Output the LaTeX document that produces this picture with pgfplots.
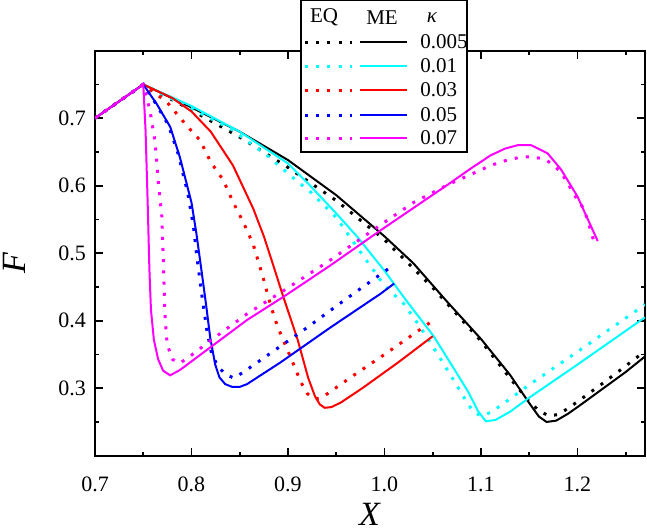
\documentclass[border=0pt]{standalone}
\usepackage{fontspec}
\setmainfont{Liberation Serif}
\usepackage{pgfplots}
\pgfplotsset{compat=1.18}

\definecolor{cy}{RGB}{0,255,255}
\definecolor{mg}{RGB}{255,0,255}
\definecolor{rd}{RGB}{255,0,0}
\definecolor{bl}{RGB}{0,0,255}

\tikzset{eq/.style={line width=1.5bp, line cap=butt, dash pattern=on 1.5bp off 4.1bp},
         me/.style={line width=1bp}}

\begin{document}
\begin{tikzpicture}
\begin{axis}[
  scale only axis, width=275bp, height=202.5bp,
  xmin=0.7, xmax=1.27, ymin=0.2, ymax=0.8,
  xtick={0.7,0.8,0.9,1.0,1.1,1.2},
  minor xtick={0.75,0.85,0.95,1.05,1.15,1.25},
  ytick={0.3,0.4,0.5,0.6,0.7},
  minor ytick={0.25,0.35,0.45,0.55,0.65,0.75},
  tick align=inside,
  major tick length=4bp, minor tick length=2bp,
  axis line style={line width=1bp},
  every tick/.style={black, line width=0.8bp},
  ticklabel style={font=\fontsize{11bp}{13bp}\selectfont},
  xticklabel style={yshift=-7bp},
  yticklabel style={xshift=-1bp},
  /pgf/number format/fixed, /pgf/number format/fixed zerofill,
  /pgf/number format/precision=1, /pgf/number format/assume math mode=true,
  xlabel={\textit{X}}, ylabel={\textit{F}},
  label style={font=\fontsize{17bp}{20bp}\selectfont, inner sep=0pt},
  xlabel style={at={(axis description cs:0.5,-0.145)}, anchor=center},
  ylabel style={at={(axis description cs:-0.147,0.476)}, anchor=center},
]
% kappa = 0.005
\addplot[eq, black] coordinates {(0.7,0.7)(0.75,0.75)(0.8,0.712)(0.85,0.672)(0.9,0.627)(0.95,0.578)(1.0,0.52)(1.05,0.449)(1.1,0.37)(1.13,0.315)(1.15,0.28)(1.16,0.267)(1.17,0.259)(1.18,0.261)(1.19,0.27)(1.2,0.28)(1.225,0.306)(1.25,0.333)(1.27,0.355)};
\addplot[me, black] coordinates {(0.7,0.7)(0.75,0.75)(0.8,0.716)(0.85,0.68)(0.9,0.638)(0.95,0.586)(1.0,0.525)(1.03,0.485)(1.065,0.428)(1.1,0.373)(1.13,0.32)(1.15,0.278)(1.16,0.258)(1.168,0.25)(1.178,0.252)(1.19,0.262)(1.2,0.272)(1.225,0.298)(1.25,0.324)(1.27,0.347)};
% kappa = 0.01
\addplot[eq, cy] coordinates {(0.7,0.7)(0.75,0.75)(0.8,0.714)(0.84,0.685)(0.88,0.643)(0.905,0.612)(0.923,0.591)(0.95,0.553)(0.975,0.502)(1.0,0.452)(1.02,0.425)(1.035,0.395)(1.05,0.362)(1.07,0.316)(1.083,0.285)(1.092,0.265)(1.1,0.259)(1.11,0.264)(1.125,0.279)(1.15,0.305)(1.2,0.354)(1.25,0.404)(1.27,0.424)};
\addplot[me, cy] coordinates {(0.7,0.7)(0.75,0.75)(0.8,0.718)(0.85,0.68)(0.9,0.633)(0.923,0.600)(0.95,0.559)(0.972,0.524)(1.0,0.474)(1.022,0.431)(1.051,0.377)(1.075,0.322)(1.087,0.294)(1.097,0.266)(1.105,0.251)(1.115,0.253)(1.13,0.265)(1.15,0.286)(1.2,0.335)(1.25,0.385)(1.27,0.405)};
% kappa = 0.03
\addplot[eq, rd] coordinates {(0.7,0.7)(0.75,0.75)(0.7745,0.724)(0.795,0.689)(0.809,0.667)(0.82,0.635)(0.833,0.608)(0.843,0.576)(0.854,0.545)(0.864,0.513)(0.874,0.465)(0.882,0.423)(0.889,0.392)(0.897,0.365)(0.905,0.338)(0.913,0.31)(0.92,0.292)(0.927,0.284)(0.935,0.286)(0.944,0.295)(0.968,0.319)(1.0,0.35)(1.025,0.375)(1.048,0.398)};
\addplot[me, rd] coordinates {(0.7,0.7)(0.75,0.75)(0.78,0.73)(0.8,0.71)(0.82,0.68)(0.843,0.63)(0.864,0.566)(0.875,0.525)(0.885,0.481)(0.895,0.436)(0.91,0.372)(0.921,0.315)(0.928,0.288)(0.933,0.276)(0.938,0.271)(0.945,0.272)(0.955,0.279)(0.978,0.301)(1.014,0.338)(1.05,0.377)};
% kappa = 0.05
\addplot[eq, bl] coordinates {(0.7,0.7)(0.75,0.75)(0.762,0.724)(0.776,0.69)(0.786,0.648)(0.796,0.59)(0.802,0.54)(0.806,0.49)(0.811,0.435)(0.816,0.385)(0.821,0.35)(0.828,0.331)(0.836,0.32)(0.844,0.315)(0.854,0.324)(0.88,0.35)(0.92,0.39)(0.96,0.432)(1.005,0.478)};
\addplot[me, bl] coordinates {(0.7,0.7)(0.75,0.75)(0.764,0.721)(0.778,0.687)(0.788,0.642)(0.8,0.575)(0.805,0.53)(0.81,0.478)(0.815,0.425)(0.8194,0.375)(0.8246,0.335)(0.829,0.316)(0.835,0.306)(0.842,0.302)(0.85,0.302)(0.8575,0.306)(0.892,0.338)(0.944,0.39)(0.996,0.44)(1.01,0.455)};
% kappa = 0.07
\addplot[eq, mg] coordinates {(0.7,0.7)(0.75,0.75)(0.757,0.711)(0.7623,0.665)(0.7657,0.604)(0.7693,0.554)(0.7709,0.486)(0.7717,0.446)(0.7727,0.402)(0.7748,0.365)(0.78,0.343)(0.788,0.337)(0.8,0.349)(0.823,0.374)(0.8575,0.41)(0.897,0.446)(0.944,0.49)(0.996,0.542)(1.03,0.575)(1.065,0.601)(1.09,0.617)(1.11,0.63)(1.125,0.637)(1.14,0.642)(1.15,0.643)(1.165,0.64)(1.173,0.633)(1.183,0.62)(1.193,0.596)(1.2,0.579)(1.205,0.569)(1.21,0.552)(1.2175,0.515)};
\addplot[me, mg] coordinates {(0.7,0.7)(0.75,0.75)(0.7524,0.682)(0.7545,0.579)(0.7564,0.475)(0.758,0.416)(0.761,0.372)(0.7654,0.343)(0.7706,0.326)(0.7779,0.319)(0.788,0.327)(0.8228,0.364)(0.8575,0.401)(0.897,0.437)(0.944,0.482)(0.996,0.534)(1.065,0.601)(1.09,0.626)(1.11,0.645)(1.125,0.655)(1.138,0.66)(1.152,0.66)(1.169,0.648)(1.183,0.624)(1.2,0.584)(1.221,0.518)};
\end{axis}

% legend table (units: reference pixels from the axis' top left corner)
\begin{scope}[shift={(current axis.north west)}, x=0.5bp, y=-0.5bp,
              every node/.style={font=\fontsize{10.5bp}{12bp}\selectfont, inner sep=0}]
  \draw[fill=white, line width=0.6bp] (206,-50.7) rectangle (372,101.3);
  \node at (229,-33.2) {EQ};
  \node at (287,-33.2) {ME};
  \node at (337,-33.2) {\textit{κ}};
  \foreach \c/\v/\y in {black/0.005/-8.7, cy/0.01/15.3, rd/0.03/39.3, bl/0.05/64.3, mg/0.07/87.3}{
    \draw[eq, \c] (210,\y) -- (257,\y);
    \draw[me, \c] (265,\y) -- (312,\y);
    \node[anchor=west] at (325,\y) {\v};
  }
\end{scope}

\pgfresetboundingbox
\path ([xshift=-47.5bp, yshift=-37.15bp]current axis.south west)
  rectangle ([xshift=1bp, yshift=25.35bp]current axis.north east);
\end{tikzpicture}
\end{document}
